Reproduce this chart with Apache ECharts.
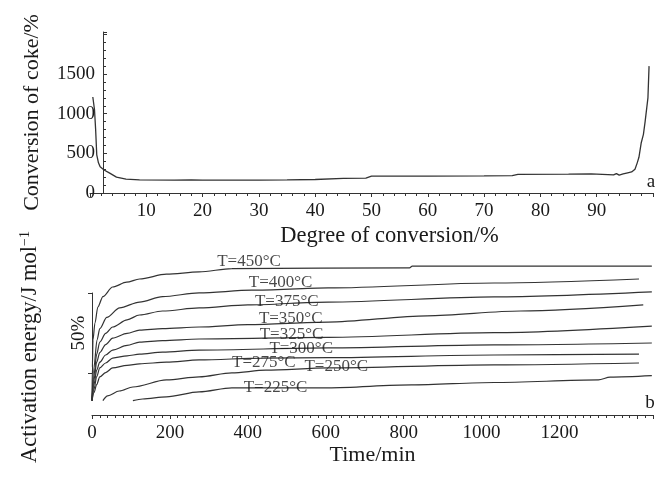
<!DOCTYPE html>
<html lang="en">
<head>
    <meta charset="UTF-8">
    <title>echarts</title>
    <script src="https://cdn.jsdelivr.net/npm/echarts@6/dist/echarts.min.js"></script>
    <style>
        html, body { margin: 0; padding: 0; background: #fff; }
        #myChart { width: 656px; height: 477px; }
    </style>
</head>
<body>
<div id="myChart"></div>
<script type="text/javascript">
    // panel a: conversion of coke (%) against degree of conversion (%)
    var cokeCurve = [[0.5,1210],[0.8,1050],[1.0,800],[1.2,480],[1.5,380],[1.8,330],[2.5,290],[3.5,250],[4.7,200],
        [6.4,175],[8.8,165],[15,162],[18,166],[20,163],[25,162],[30,163],[35,165],[40,170],[45,185],[49,187],
        [50,212],[60,214],[70,216],[75,220],[76,236],[85,238],[89,242],[91,236],[93,228],[93.5,245],[94,225],
        [94.7,240],[95.5,255],[96.2,265],[96.8,300],[97.2,380],[97.5,450],[97.9,630],[98.3,740],[98.6,900],
        [98.9,1080],[99.1,1200],[99.3,1600]];

    // panel b: one curve per temperature, [time/min, height in % of the 50% bar units]
    var temps = ['T=450°C', 'T=400°C', 'T=375°C', 'T=350°C', 'T=325°C', 'T=300°C', 'T=275°C', 'T=250°C', 'T=225°C'];
    var c450 = [[0,9],[1,30],[2.5,47],[7.6,57.5],[15,67.5],[28,74],[53,80],[89,83],[122,85],[191,88],[275,89.4],[359,91.5],[815,92],[822,93],[1437,93]];
    var c400 = [[0,9],[5,30],[13,47],[20,54],[38,61],[71,67],[122,70.6],[181,74],[275,76.3],[410,78],[606,79.4],[1032,82.5],[1404,85]];
    var c375 = [[0,9],[5,25],[12,38],[20,45.6],[35,51],[53,55],[90,59.5],[122,62.5],[181,65],[275,66.9],[400,68.8],[606,70.6],[1032,73.8],[1437,76.9]];
    var c350 = [[0,9],[5,22],[12,33],[20,39],[35,44],[53,48],[90,51],[122,53],[181,54],[275,55],[400,56.5],[606,58.1],[860,62],[1100,65],[1415,68.8]];
    var c325 = [[0,9],[5,19],[12,28],[20,33],[35,37.5],[53,40.6],[90,43.5],[122,45.6],[181,46.5],[275,47.5],[606,48.5],[1032,51.5],[1437,55.6]];
    var c300 = [[0,9],[5,16],[12,24],[20,29.4],[35,32.5],[53,35.6],[90,37],[122,38],[181,39.3],[275,40.6],[606,41.9],[1032,43.8],[1437,45]];
    var c275 = [[0,9],[5,14],[12,19],[20,23.8],[35,26.5],[53,29.4],[90,31],[122,32],[191,33],[275,34.4],[440,35.6],[606,35.8],[1032,37.5],[1404,38.1]];
    var c250 = [[28,9],[40,12],[70,15],[105,17.5],[191,21.9],[275,23.8],[359,26.3],[446,28],[606,29.4],[1032,31.3],[1404,32.5]];
    var c225 = [[105,9],[130,10],[191,11.3],[275,14.4],[359,16.9],[606,17],[820,18.8],[1032,20.3],[1300,21.9],[1330,23.7],[1437,24.6]];
    var curves = [c450, c400, c375, c350, c325, c300, c275, c250, c225];

    // where each temperature label sits (time, height)
    var labelTime = [403, 484, 500, 510, 512, 537, 441, 627, 471];
    var labelValue = [96, 83, 71, 60.3, 50, 41.3, 33, 30.6, 17];

    var FONT = 'Liberation Serif';
    var INK = '#1a1a1a';
    var LINE = '#333';

    var myChart = echarts.init(document.getElementById('myChart'));

    var series = [{
        type: 'line', xAxisIndex: 0, yAxisIndex: 0,
        data: cokeCurve, showSymbol: false, silent: true,
        lineStyle: {color: LINE, width: 1.3}
    }];
    for (var i = 0; i < curves.length; i++) {
        series.push({
            type: 'line', xAxisIndex: 1, yAxisIndex: 1,
            data: curves[i], showSymbol: false, silent: true,
            smooth: 0.3, smoothMonotone: 'x',
            lineStyle: {color: LINE, width: 1.2}
        });
    }
    var labelData = [];
    for (var j = 0; j < temps.length; j++) {
        labelData.push({name: temps[j], value: [labelTime[j], labelValue[j]]});
    }
    series.push({
        type: 'scatter', xAxisIndex: 1, yAxisIndex: 1, silent: true, z: 5,
        symbolSize: 0, data: labelData,
        label: {show: true, position: 'inside', formatter: '{b}', fontFamily: FONT, fontSize: 17, color: INK}
    });

    var option = {
        animation: false,
        grid: [
            {left: 90, right: -4, top: 32, bottom: 284},
            {left: 92, right: -1, top: 255, bottom: 62},
            {left: 92, top: 293, width: 1, height: 80}
        ],
        xAxis: [{
            gridIndex: 0, type: 'value', min: 0, max: 100, interval: 10,
            axisLine: {lineStyle: {color: LINE, width: 1}},
            axisTick: {length: 4, lineStyle: {color: LINE}},
            minorTick: {show: true, splitNumber: 5, length: 3, lineStyle: {color: LINE}},
            splitLine: {show: false},
            axisLabel: {
                margin: 9, fontFamily: FONT, fontSize: 19, color: INK,
                formatter: function (v) { return (v === 0 || v % 10 !== 0 || v > 90) ? '' : v; }
            },
            name: 'Degree of conversion/%', nameLocation: 'middle', nameGap: 32,
            nameTextStyle: {fontFamily: FONT, fontSize: 22.5, color: INK, padding: [0, 0, 0, 36]}
        }, {
            gridIndex: 1, type: 'value', min: 0, max: 1440, interval: 200,
            axisLine: {lineStyle: {color: LINE, width: 1}},
            axisTick: {length: 4, lineStyle: {color: LINE}},
            minorTick: {show: true, splitNumber: 10, length: 3, lineStyle: {color: LINE}},
            splitLine: {show: false},
            axisLabel: {
                margin: 9, fontFamily: FONT, fontSize: 19, color: INK,
                formatter: function (v) { return (v % 200 !== 0 || v > 1200) ? '' : v; }
            },
            name: 'Time/min', nameLocation: 'middle', nameGap: 27,
            nameTextStyle: {fontFamily: FONT, fontSize: 22, color: INK}
        }, {
            gridIndex: 2, type: 'value', min: 0, max: 1, show: false
        }],
        yAxis: [{
            gridIndex: 0, type: 'value', min: 0, max: 2030, interval: 500, offset: -13,
            axisLine: {show: true, onZero: false, lineStyle: {color: LINE, width: 1}},
            axisTick: {inside: true, length: 4, lineStyle: {color: LINE}},
            minorTick: {show: true, splitNumber: 5, length: 3, lineStyle: {color: LINE}},
            splitLine: {show: false},
            axisLabel: {
                margin: 8, fontFamily: FONT, fontSize: 19, color: INK,
                formatter: function (v) { return (v % 500 !== 0 || v > 1500) ? '' : v; }
            },
            name: 'Conversion of coke/%', nameLocation: 'middle', nameGap: 60, nameRotate: 90,
            nameTextStyle: {fontFamily: FONT, fontSize: 22, color: INK}
        }, {
            gridIndex: 1, type: 'value', min: 0, max: 100, show: false
        }, {
            // the 50% scale bar
            gridIndex: 2, type: 'value', min: 0, max: 50, interval: 50,
            axisLine: {show: true, onZero: false, lineStyle: {color: LINE, width: 1}},
            axisTick: {show: true, length: 4, lineStyle: {color: LINE}},
            axisLabel: {show: false},
            splitLine: {show: false},
            name: '50%', nameLocation: 'middle', nameGap: 3, nameRotate: 90,
            nameTextStyle: {fontFamily: FONT, fontSize: 19, color: INK}
        }],
        graphic: [{
            type: 'text', x: 30, y: 347, rotation: Math.PI / 2,
            style: {
                text: '{m|Activation energy/J mol}{s|−1}',
                align: 'center', verticalAlign: 'middle', textAlign: 'center', textVerticalAlign: 'middle',
                rich: {
                    m: {fontFamily: FONT, fontSize: 22.5, fill: INK},
                    s: {fontFamily: FONT, fontSize: 14, fill: INK, verticalAlign: 'top'}
                }
            }
        }, {
            type: 'text', x: 651, y: 182,
            style: {text: 'a', font: '19px ' + FONT, fill: INK, align: 'center', verticalAlign: 'middle', textAlign: 'center', textVerticalAlign: 'middle'}
        }, {
            type: 'text', x: 650, y: 403,
            style: {text: 'b', font: '19px ' + FONT, fill: INK, align: 'center', verticalAlign: 'middle', textAlign: 'center', textVerticalAlign: 'middle'}
        }],
        series: series
    };
    myChart.setOption(option);
</script>
</body>
</html>
